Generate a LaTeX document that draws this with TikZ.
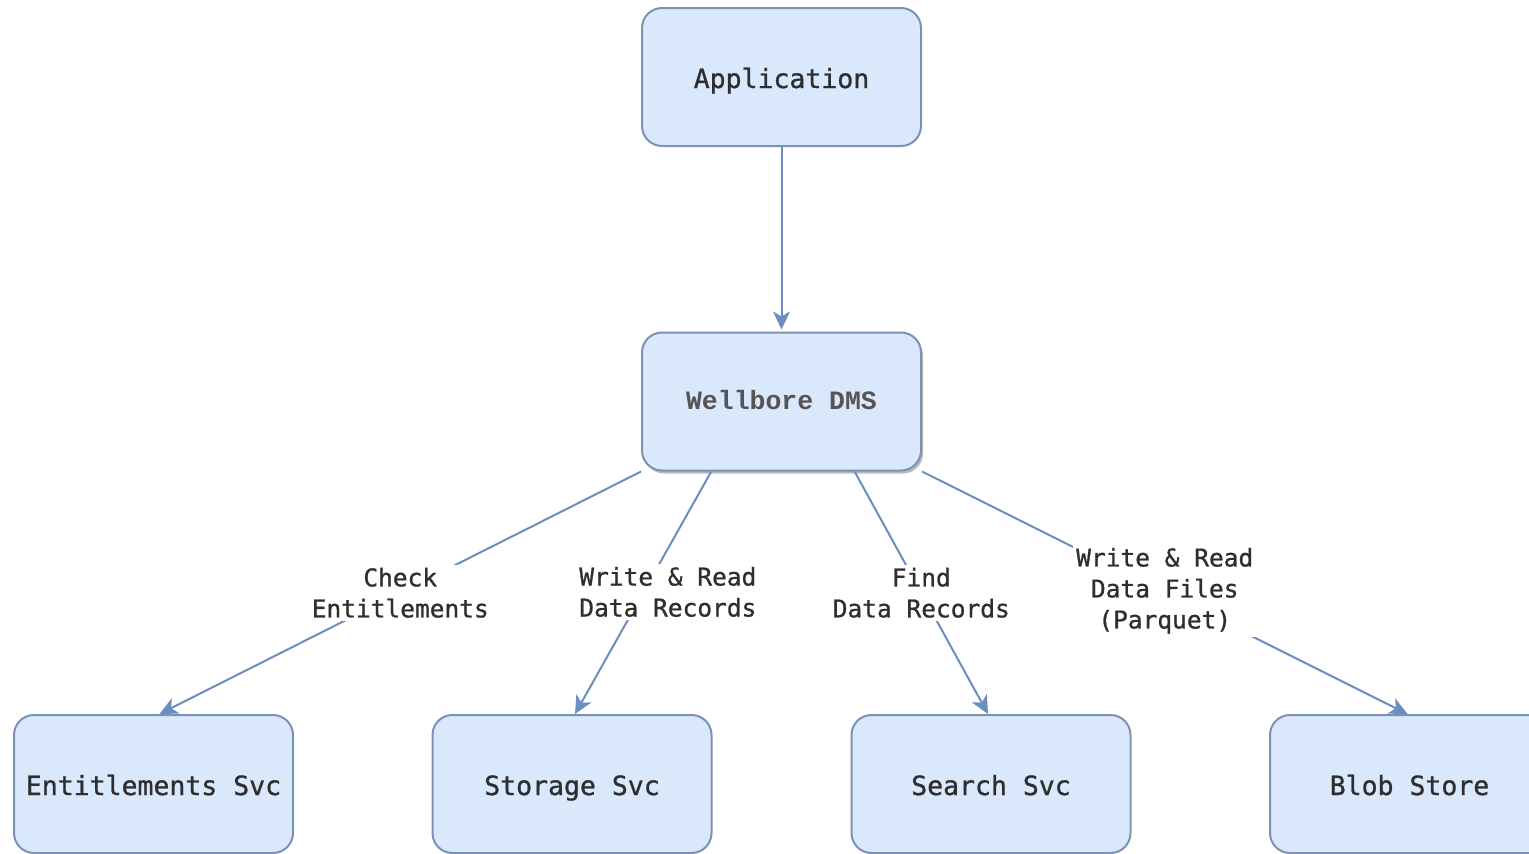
\documentclass[tikz,border=0pt]{standalone}
\usepackage{fontspec}
\usetikzlibrary{arrows.meta,shadows,calc}
\newfontfamily\boxfont[FakeBold=0.9]{DejaVu Sans Mono}
\newfontfamily\corefont{Liberation Mono}
\definecolor{boxfill}{HTML}{DAE8FC}
\definecolor{boxline}{HTML}{7B92B5}
\definecolor{linkcol}{HTML}{6C8EBF}
\definecolor{txt}{HTML}{2E2E2E}
\definecolor{coretxt}{HTML}{555555}
\tikzset{
  svcbox/.style={draw=boxline, line width=2pt, fill=boxfill, rounded corners=20pt,
    minimum width=279pt, minimum height=138pt, inner sep=0pt,
    text height=24pt, text depth=2pt,
    text=txt, font=\boxfont\fontsize{26.5}{30}\selectfont},
  corebox/.style={svcbox, drop shadow={shadow xshift=2pt, shadow yshift=-3pt, fill=black!45, opacity=0.6},
    text height=19pt, text depth=4pt,
    text=coretxt, font=\corefont\bfseries\fontsize{26.5}{30}\selectfont},
  link/.style={draw=linkcol, line width=2pt, -{Stealth[length=18pt, width=17pt, inset=5pt]}},
  linklabel/.style={fill=white, inner sep=3pt, align=center, text=txt,
    font=\boxfont\fontsize{24.5}{31}\selectfont}
}
\begin{document}
\begin{tikzpicture}[x=1pt, y=-1pt]
  \useasboundingbox (0,0) rectangle (1529,854);
  \fill[white] (0,0) rectangle (1529,854);

  % service boxes
  \node[svcbox] (app) at (781.5,77) {Application};
  \node[corebox] (dms) at (781.5,401.5) {Wellbore DMS};
  \node[svcbox] (ent) at (153.5,784) {Entitlements Svc};
  \node[svcbox] (sto) at (572,784) {Storage Svc};
  \node[svcbox] (sea) at (991,784) {Search Svc};
  \node[svcbox] (blob) at (1409.5,784) {Blob Store};

  % calls between services
  \draw[link] (app.south) -- ($(dms.north)+(0,-2)$);

  \draw[link] (dms.south west) -- ($(ent.north)+(6,0)$)
    node[linklabel, pos=0.5] {Check\\Entitlements};
  \draw[link] ($(dms.south west)!0.25!(dms.south east)$) -- ($(sto.north)+(3,0)$)
    node[linklabel, pos=0.48, xshift=22pt, yshift=-4pt] {Write \& Read\\Data Records};
  \draw[link] ($(dms.south west)!0.76!(dms.south east)$) -- ($(sea.north)+(-3,0)$)
    node[linklabel, pos=0.5] {Find\\Data Records};
  \draw[link] (dms.south east) -- ($(blob.north)+(-2,0)$)
    node[linklabel, pos=0.5, yshift=2pt] {Write \& Read\\Data Files\\(Parquet)};
\end{tikzpicture}
\end{document}
